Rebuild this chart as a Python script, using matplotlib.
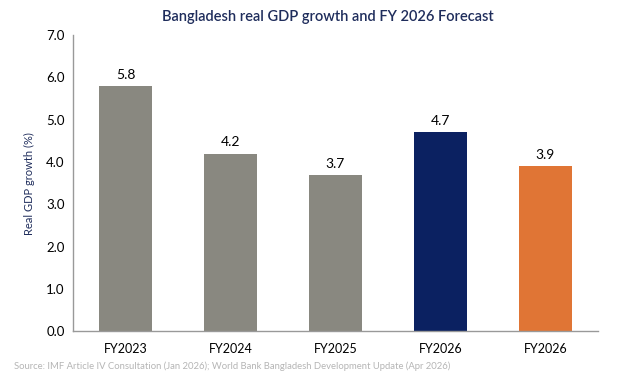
import numpy as np
import matplotlib.pyplot as plt

plt.rcParams['font.family'] = ['Lato', 'DejaVu Sans']

categories = ['FY2023', 'FY2024', 'FY2025', 'FY2026', 'FY2026']
growth = [5.8, 4.2, 3.7, 4.7, 3.9]
colors = ['#898880', '#898880', '#898880', '#0B2161', '#E07535']
yticks = [0.0, 1.0, 2.0, 3.0, 4.0, 5.0, 6.0, 7.0]

fig = plt.figure(figsize=(6.24, 3.84), dpi=100)
ax = fig.add_axes([0.117, 0.137, 0.841, 0.772])

x = np.arange(len(categories))
ax.bar(x, growth, width=0.5, color=colors)
for xi, v in zip(x, growth):
    ax.text(xi, v + 0.12, f'{v:.1f}', ha='center', va='bottom', fontsize=10)

ax.set_xlim(-0.5, 4.5)
ax.set_ylim(0, 7)
ax.set_xticks(x)
ax.set_xticklabels(categories, fontsize=9)
ax.set_yticks(yticks)
ax.set_yticklabels([f'{t:.1f}' for t in yticks], fontsize=9.5)
ax.tick_params(length=0, pad=6)
ax.tick_params(axis='x', pad=8)
for s in ['top', 'right']:
    ax.spines[s].set_visible(False)
for s in ['left', 'bottom']:
    ax.spines[s].set_color('#999999')
    ax.spines[s].set_linewidth(1.0)
ax.set_ylabel('Real GDP growth (%)', color='#1F2D5C', fontsize=8, labelpad=8)

fig.text(0.526, 0.955, 'Bangladesh real GDP growth and FY 2026 Forecast',
         ha='center', va='center', color='#1F2D5C', fontsize=10.5,
         fontweight='semibold')
fig.text(0.022, 0.045, 'Source: IMF Article IV Consultation (Jan 2026); World Bank Bangladesh Development Update (Apr 2026)',
         ha='left', va='center', color='#B5B5B5', fontsize=6.8)

fig.savefig('out.png', dpi=100)
